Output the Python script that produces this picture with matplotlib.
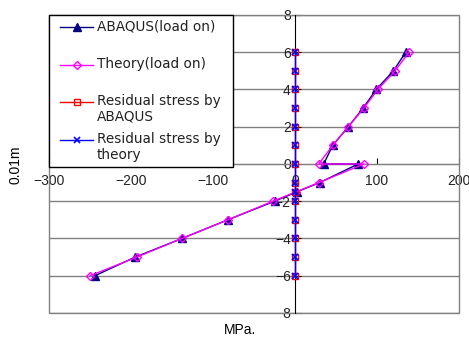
import matplotlib
matplotlib.use("Agg")
import matplotlib.pyplot as plt
from matplotlib.patches import Rectangle
from matplotlib.lines import Line2D

# ---- data ----
y_abaqus = [6, 5, 4, 3, 2, 1, 0, 0, -1, -1.5, -2, -3, -4, -5, -6]
x_abaqus = [135, 120, 99, 83, 65, 46, 35, 77, 30, 2, -25, -82, -138, -195, -244]

y_theory = [6, 5, 4, 3, 2, 1, 0, 0, -1, -1.5, -2, -3, -4, -5, -6]
x_theory = [139, 122, 101, 84, 65, 46, 29, 84, 29, 1, -27, -82, -138, -193, -250]

y_resid = [6, 5, 4, 3, 2, 1, 0, -1, -1.5, -2, -3, -4, -5, -6]
x_resid_abaqus = [0, 0, 0, 0, 0, 0, 0, 0, 0, 0, 0, 0, 0, 0]
x_resid_theory = [0, 0, 0, 0, 0, 0, 0, 0, 0, 0, 0, 0, 0, 0]

labels = ["ABAQUS(load on)", "Theory(load on)",
          "Residual stress by\nABAQUS", "Residual stress by\ntheory"]
x_ticks = [-300, -200, -100, 0, 100, 200]
y_ticks = [-8, -6, -4, -2, 0, 2, 4, 6, 8]

plt.rcParams['font.family'] = ['Liberation Sans', 'DejaVu Sans']

W, H = 469, 340
fig = plt.figure(figsize=(W/100, H/100), dpi=100)
ax = fig.add_axes([49/W, 1-313/H, 410/W, 298/H])

ax.set_xlim(-300, 200)
ax.set_ylim(-8, 8)

styles = [
    dict(color='#000080', lw=1, marker='^', ms=5.5, mfc='#000080', mec='#000080'),
    dict(color='#FF00FF', lw=1, marker='D', ms=4.5, mfc='none', mec='#FF00FF', mew=1),
    dict(color='#FF0000', lw=1, marker='s', ms=5, mfc='none', mec='#FF0000', mew=1),
    dict(color='#0000FF', lw=1, marker='x', ms=5, mew=1.2),
]

ax.plot(x_abaqus, y_abaqus, zorder=3, **styles[0])
ax.plot(x_theory, y_theory, zorder=4, **styles[1])
ax.plot(x_resid_abaqus, y_resid, zorder=5, **styles[2])
ax.plot(x_resid_theory, y_resid, zorder=6, **styles[3])

# spines through origin
for s in ['top', 'right']:
    ax.spines[s].set_visible(False)
ax.spines['left'].set_position(('data', 0))
ax.spines['left'].set_color('black')
ax.spines['bottom'].set_position(('data', 0))
ax.spines['bottom'].set_color('#808080')
ax.add_patch(Rectangle((0, 0), 1, 1, transform=ax.transAxes, fill=False,
                       edgecolor='#808080', lw=1, zorder=1, clip_on=False))

ax.set_xticks(x_ticks)
ax.set_xticklabels([str(v).replace('-', '\u2212') for v in x_ticks])
ax.set_yticks(y_ticks)
ax.set_yticklabels([str(v).replace('-', '\u2212') for v in y_ticks])
ax.tick_params(axis='x', direction='in', length=4, color='black',
               labelsize=10, pad=7, colors='#222222')
ax.tick_params(axis='y', direction='in', length=4, color='black',
               labelsize=10, pad=3, colors='#222222')
ax.yaxis.grid(True, color='#808080', lw=1)
ax.set_axisbelow(True)

# ---- Excel-style legend drawn in figure pixels ----
def fx(x):
    return x / W

def fy(y):
    return 1 - y / H

fig.add_artist(Rectangle((fx(49), fy(167)), fx(233) - fx(49), fy(15) - fy(167),
                         transform=fig.transFigure, facecolor='white',
                         edgecolor='black', lw=1, zorder=20))
entry_y = [27, 65, 102, 140]
for st, lab, yy in zip(styles, labels, entry_y):
    line_kw = {k: v for k, v in st.items() if k in ('color', 'lw')}
    fig.add_artist(Line2D([fx(60), fx(93)], [fy(yy), fy(yy)],
                          transform=fig.transFigure, zorder=21, **line_kw))
    mk_kw = {k: v for k, v in st.items() if k not in ('lw',)}
    fig.add_artist(Line2D([fx(76.5)], [fy(yy)], transform=fig.transFigure,
                          lw=0, zorder=22, **mk_kw))
    fig.text(fx(97), fy(yy - 8), lab, ha='left', va='top',
             family='DejaVu Sans', fontsize=9.8, color='#222222',
             linespacing=1.15, zorder=23)

fig.text(240/W, 1-330/H, "MPa.", ha='center', va='center', fontsize=10)
fig.text(15/W, 1-165/H, "0.01m", ha='center', va='center', fontsize=10,
         rotation=90)

fig.savefig("out.png", dpi=100)
